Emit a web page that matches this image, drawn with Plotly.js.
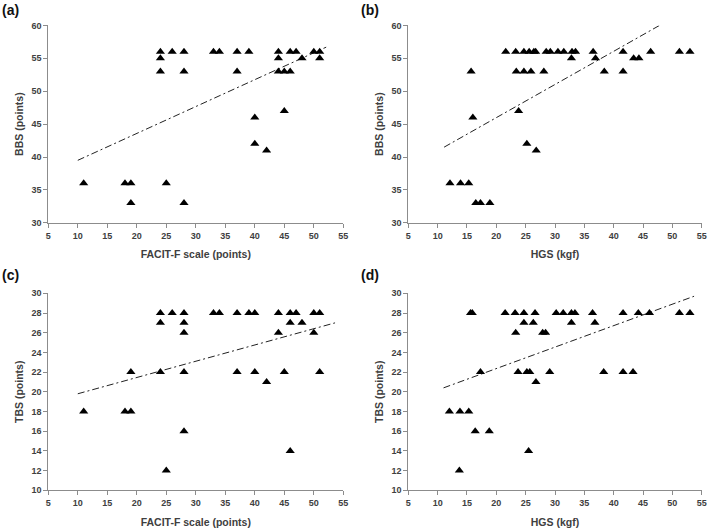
<!DOCTYPE html>
<html>
<head>
<meta charset="utf-8">
<script src="https://cdn.plot.ly/plotly-3.0.1.min.js"></script>
<style>
  html, body { margin: 0; padding: 0; background: #fff; }
  #chart { width: 709px; height: 528px; }
</style>
</head>
<body>
<div id="chart"></div>
<script>
// (a) FACIT-F vs BBS
const facitBBS_x = [24, 26, 28, 33, 34, 37, 39, 44, 46, 47, 50, 51,
                    24, 44, 48, 51,
                    24, 28, 37, 44, 45, 46,
                    45, 40, 40, 42,
                    11, 18, 19, 25,
                    19, 28];
const facitBBS_y = [56, 56, 56, 56, 56, 56, 56, 56, 56, 56, 56, 56,
                    55, 55, 55, 55,
                    53, 53, 53, 53, 53, 53,
                    47, 46, 42, 41,
                    36, 36, 36, 36,
                    33, 33];

// (b) HGS vs BBS
const hgsBBS_x = [21.6, 23.3, 24.7, 25.6, 26.4, 26.7, 28.5, 29.2, 30.5, 31.5, 32.9, 33.5, 36.5, 41.6, 46.3, 51.2, 53.0,
                  32.8, 36.9, 43.4, 44.3,
                  15.7, 23.4, 24.7, 25.9, 28.1, 38.4, 41.6,
                  23.8, 16.0, 25.2, 26.8,
                  12.1, 13.9, 15.3,
                  16.5, 17.3, 18.9];
const hgsBBS_y = [56, 56, 56, 56, 56, 56, 56, 56, 56, 56, 56, 56, 56, 56, 56, 56, 56,
                  55, 55, 55, 55,
                  53, 53, 53, 53, 53, 53, 53,
                  47, 46, 42, 41,
                  36, 36, 36,
                  33, 33, 33];

// (c) FACIT-F vs TBS
const facitTBS_x = [24, 26, 28, 33, 34, 37, 39, 40, 44, 46, 47, 50, 51,
                    24, 28, 46, 48,
                    28, 44, 50,
                    19, 24, 28, 37, 40, 45, 51,
                    42,
                    11, 18, 19,
                    28, 46, 25];
const facitTBS_y = [28, 28, 28, 28, 28, 28, 28, 28, 28, 28, 28, 28, 28,
                    27, 27, 27, 27,
                    26, 26, 26,
                    22, 22, 22, 22, 22, 22, 22,
                    21,
                    18, 18, 18,
                    16, 14, 12];

// (d) HGS vs TBS
const hgsTBS_x = [15.6, 15.9, 21.5, 23.2, 24.7, 26.6, 30.2, 31.4, 32.8, 33.4, 36.4, 41.6, 44.2, 46.1, 51.2, 53.0,
                  24.7, 26.3, 32.8, 36.8,
                  23.3, 27.9, 28.4,
                  17.3, 23.7, 25.2, 25.7, 29.1, 38.3, 41.6, 43.3,
                  26.75,
                  12.0, 13.8, 15.3,
                  16.4, 18.8,
                  25.5, 13.7];
const hgsTBS_y = [28, 28, 28, 28, 28, 28, 28, 28, 28, 28, 28, 28, 28, 28, 28, 28,
                  27, 27, 27, 27,
                  26, 26, 26,
                  22, 22, 22, 22, 22, 22, 22, 22,
                  21,
                  18, 18, 18,
                  16, 16,
                  14, 12];

// fitted lines, end points
const trendA_x = [10, 52.1], trendA_y = [39.5, 56.7];
const trendB_x = [11.1, 47.8], trendB_y = [41.5, 60];
const trendC_x = [10, 53.6], trendC_y = [19.8, 27.0];
const trendD_x = [11, 53.7], trendD_y = [20.4, 29.7];

const panelLabels = ['(a)', '(b)', '(c)', '(d)'];
const xTitles = ['FACIT-F scale (points)', 'HGS (kgf)', 'FACIT-F scale (points)', 'HGS (kgf)'];
const yTitles = ['BBS (points)', 'BBS (points)', 'TBS (points)', 'TBS (points)'];

const FONT = 'Liberation Sans, Arial, sans-serif';
const AXIS_GREY = '#8c8c8c';
const TEXT_GREY = '#404040';

function pts(x, y, ax) {
    return { x, y, xaxis: 'x' + ax, yaxis: 'y' + ax, type: 'scatter', mode: 'markers',
             marker: { symbol: 'triangle-up', size: 8, color: '#000' },
             hoverinfo: 'x+y', showlegend: false };
}
function fit(x, y, ax) {
    return { x, y, xaxis: 'x' + ax, yaxis: 'y' + ax, type: 'scatter', mode: 'lines',
             line: { color: '#222', width: 1, dash: '7px,3px,2px,3px' },
             hoverinfo: 'skip', showlegend: false };
}

const traces = [
    fit(trendA_x, trendA_y, ''), pts(facitBBS_x, facitBBS_y, ''),
    fit(trendB_x, trendB_y, '2'), pts(hgsBBS_x, hgsBBS_y, '2'),
    fit(trendC_x, trendC_y, '3'), pts(facitTBS_x, facitTBS_y, '3'),
    fit(trendD_x, trendD_y, '4'), pts(hgsTBS_x, hgsTBS_y, '4'),
];

function xax(domain, anchor, title) {
    return { domain, anchor, range: [5, 55], dtick: 5, tick0: 5,
             showline: true, linecolor: AXIS_GREY, linewidth: 1,
             ticks: 'outside', ticklen: 4, tickcolor: AXIS_GREY,
             showgrid: false, zeroline: false, fixedrange: true,
             tickfont: { family: FONT, size: 9, color: TEXT_GREY, weight: 'bold' },
             title: { text: title, standoff: 11, font: { family: FONT, size: 10.5, color: TEXT_GREY, weight: 'bold' } } };
}
function yax(domain, anchor, range, dtick, title) {
    return { domain, anchor, range, dtick, tick0: range[0],
             showline: true, linecolor: AXIS_GREY, linewidth: 1,
             ticks: 'outside', ticklen: 4, tickcolor: AXIS_GREY,
             showgrid: false, zeroline: false, fixedrange: true,
             tickfont: { family: FONT, size: 9, color: TEXT_GREY, weight: 'bold' },
             title: { text: title, standoff: 5, font: { family: FONT, size: 10.5, color: TEXT_GREY, weight: 'bold' } } };
}

const colL = [0.0681, 0.4842], colR = [0.5759, 0.9897];
const rowT = [0.578, 0.9518], rowB = [0.0714, 0.4445];

const labelPos = [[0.0, 1.0], [0.507, 1.0], [0.0, 0.498], [0.507, 0.498]];

const layout = {
    width: 709, height: 528,
    margin: { l: 0, r: 0, t: 0, b: 0 },
    paper_bgcolor: '#fff', plot_bgcolor: '#fff',
    font: { family: FONT, color: TEXT_GREY },
    xaxis:  xax(colL, 'y',  xTitles[0]),
    yaxis:  yax(rowT, 'x',  [30, 60], 5, yTitles[0]),
    xaxis2: xax(colR, 'y2', xTitles[1]),
    yaxis2: yax(rowT, 'x2', [30, 60], 5, yTitles[1]),
    xaxis3: xax(colL, 'y3', xTitles[2]),
    yaxis3: yax(rowB, 'x3', [10, 30], 2, yTitles[2]),
    xaxis4: xax(colR, 'y4', xTitles[3]),
    yaxis4: yax(rowB, 'x4', [10, 30], 2, yTitles[3]),
    annotations: panelLabels.map((t, i) => ({
        text: t, xref: 'paper', yref: 'paper', x: labelPos[i][0], y: labelPos[i][1],
        xanchor: 'left', yanchor: 'top', showarrow: false,
        font: { family: FONT, size: 14, color: '#111', weight: 'bold' } })),
};

Plotly.newPlot('chart', traces, layout, { displayModeBar: false, staticPlot: true });
</script>
</body>
</html>
